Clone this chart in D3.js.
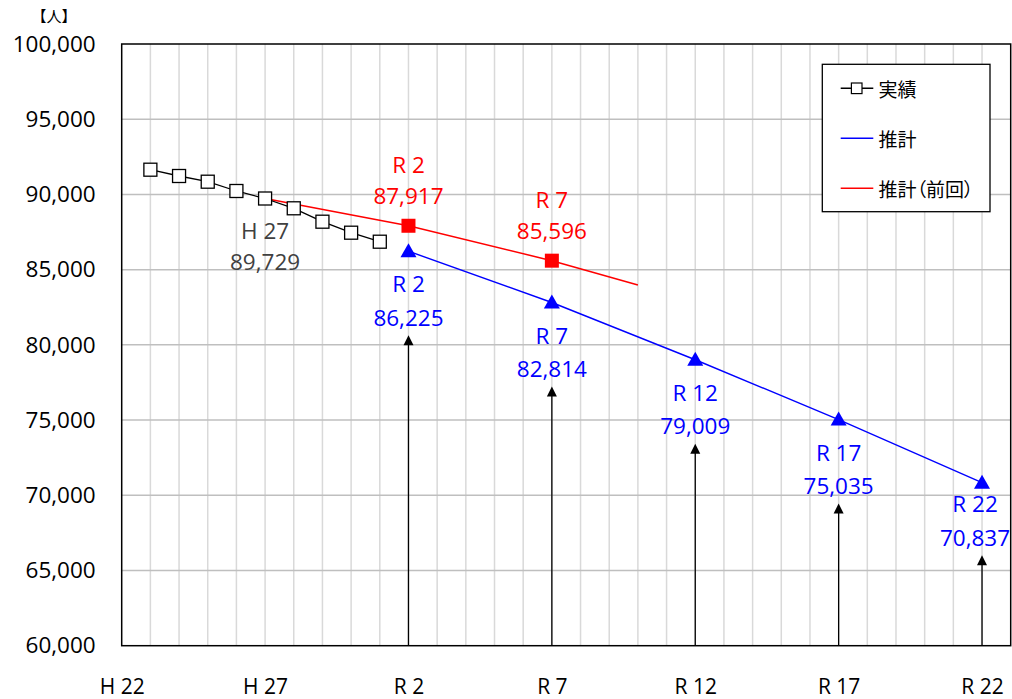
<!DOCTYPE html>
<html>
<head>
<meta charset="utf-8">
<script src="https://cdn.jsdelivr.net/npm/d3@7"></script>
<style>
  html, body { margin: 0; padding: 0; background: #fff; }
  svg { display: block; }
</style>
</head>
<body>
<svg id="chart" width="1012" height="699"></svg>
<script>
// ---- data ----
const actualYears = [2011, 2012, 2013, 2014, 2015, 2016, 2017, 2018, 2019];
const actualValues = [91644, 91225, 90846, 90228, 89729, 89078, 88187, 87456, 86857];

const estYears = [2020, 2025, 2030, 2035, 2040];
const estValues = [86225, 82814, 79009, 75035, 70837];
const estLabels = ["R 2", "R 7", "R 12", "R 17", "R 22"];

const prevYears = [2015, 2020, 2025, 2028];
const prevValues = [89729, 87917, 85596, 83980];
const prevMarkerYears = [2020, 2025];
const prevLabels = ["R 2", "R 7"];

const xTickYears = [2010, 2015, 2020, 2025, 2030, 2035, 2040];
const xTickLabels = ["H 22", "H 27", "R 2", "R 7", "R 12", "R 17", "R 22"];
const yTicks = [60000, 65000, 70000, 75000, 80000, 85000, 90000, 95000, 100000];

const unitLabel = "【人】";
const legendNames = ["実績", "推計", "推計（前回）"];
const highlightYear = 2015, highlightLabel = "H 27";

// ---- layout ----
const svg = d3.select("#chart");
const L = 121.7, R = 1010.7, T = 44, B = 645.7;
const x = d3.scaleLinear().domain([2010, 2041]).range([L, R]);
const y = d3.scaleLinear().domain([60000, 100000]).range([B, T]);
const fmt = d3.format(",");
const numFont = "'Open Sans', 'Liberation Sans', sans-serif";
const cjkFont = "'Noto Sans CJK JP', sans-serif";

// vertical gridlines (every year)
svg.append("g").selectAll("line")
  .data(d3.range(2011, 2041))
  .join("line")
  .attr("x1", d => x(d)).attr("x2", d => x(d))
  .attr("y1", T).attr("y2", B)
  .attr("stroke", "#d9d9d9").attr("stroke-width", 1.5);

// horizontal gridlines
svg.append("g").selectAll("line")
  .data(yTicks.slice(1, -1))
  .join("line")
  .attr("x1", L).attr("x2", R)
  .attr("y1", d => y(d)).attr("y2", d => y(d))
  .attr("stroke", "#bfbfbf").attr("stroke-width", 1.5);

// plot border
svg.append("rect")
  .attr("x", L).attr("y", T).attr("width", R - L).attr("height", B - T)
  .attr("fill", "none").attr("stroke", "#000").attr("stroke-width", 1.5);

// y axis
const yAxis = svg.append("g")
  .attr("transform", `translate(${L},0)`)
  .call(d3.axisLeft(y).tickValues(yTicks).tickFormat(fmt).tickSize(0).tickPadding(26));
yAxis.select(".domain").remove();
yAxis.selectAll("text").attr("font-family", numFont).attr("font-size", 22.5).attr("fill", "#000");

// x axis
const xAxis = svg.append("g")
  .attr("transform", `translate(0,${B})`)
  .call(d3.axisBottom(x).tickValues(xTickYears).tickFormat((d, i) => xTickLabels[i]).tickSize(0).tickPadding(0));
xAxis.select(".domain").remove();
xAxis.selectAll("text").attr("font-family", numFont).attr("font-size", 21).attr("fill", "#000")
  .attr("dy", null).attr("y", 40).attr("dominant-baseline", "central");

// unit label
svg.append("text").attr("x", 54).attr("y", 15).attr("text-anchor", "middle")
  .attr("dominant-baseline", "central")
  .attr("font-family", cjkFont).attr("font-size", 15).attr("fill", "#000").text(unitLabel);

// label offsets (below the point) for estimate labels
const estOff1 = (i) => i === estYears.length - 1 ? 21 : 32.5;
const estOff2 = (i) => i === estYears.length - 1 ? 54.5 : 66;

// arrows
const arrowData = estYears.map((yr, i) => ({ yr, v: estValues[i], off: estOff2(i) + 18 }));
svg.append("g").selectAll("line")
  .data(arrowData)
  .join("line")
  .attr("x1", d => x(d.yr)).attr("x2", d => x(d.yr))
  .attr("y1", B).attr("y2", d => y(d.v) + d.off + 8)
  .attr("stroke", "#000").attr("stroke-width", 1.3);
svg.append("g").selectAll("path")
  .data(arrowData)
  .join("path")
  .attr("transform", d => `translate(${x(d.yr)},${y(d.v) + d.off})`)
  .attr("d", "M0,0 L5,10 L-5,10 Z").attr("fill", "#000");

// lines
const line = d3.line().x(d => x(d[0])).y(d => y(d[1]));
svg.append("path").datum(prevYears.map((yr, i) => [yr, prevValues[i]]))
  .attr("d", line).attr("fill", "none").attr("stroke", "#ff0000").attr("stroke-width", 1.5);
svg.append("path").datum(estYears.map((yr, i) => [yr, estValues[i]]))
  .attr("d", line).attr("fill", "none").attr("stroke", "#0000ff").attr("stroke-width", 1.4);
svg.append("path").datum(actualYears.map((yr, i) => [yr, actualValues[i]]))
  .attr("d", line).attr("fill", "none").attr("stroke", "#000").attr("stroke-width", 1.3);

// actual markers
svg.append("g").selectAll("rect")
  .data(actualYears.map((yr, i) => [yr, actualValues[i]]))
  .join("rect")
  .attr("x", d => x(d[0]) - 6.5).attr("y", d => y(d[1]) - 6.5)
  .attr("width", 13).attr("height", 13)
  .attr("fill", "#fff").attr("stroke", "#000").attr("stroke-width", 1.3);

// previous-estimate markers
const prevPts = prevMarkerYears.map(yr => [yr, prevValues[prevYears.indexOf(yr)]]);
svg.append("g").selectAll("rect")
  .data(prevPts)
  .join("rect")
  .attr("x", d => x(d[0]) - 7).attr("y", d => y(d[1]) - 7)
  .attr("width", 14).attr("height", 14).attr("fill", "#ff0000");

// estimate markers (triangles)
svg.append("g").selectAll("path")
  .data(estYears.map((yr, i) => [yr, estValues[i]]))
  .join("path")
  .attr("transform", d => `translate(${x(d[0])},${y(d[1])})`)
  .attr("d", "M0,-8 L8,6 L-8,6 Z").attr("fill", "#0000ff");

// labels
function twoLine(g, cx, cy1, cy2, t1, t2, color) {
  g.append("text").attr("x", cx).attr("y", cy1).attr("text-anchor", "middle")
    .attr("dominant-baseline", "central").attr("font-family", numFont).attr("font-size", 22.5)
    .attr("fill", color).text(t1);
  g.append("text").attr("x", cx).attr("y", cy2).attr("text-anchor", "middle")
    .attr("dominant-baseline", "central").attr("font-family", numFont).attr("font-size", 22.5)
    .attr("fill", color).text(t2);
}
const lab = svg.append("g");
// H27 actual
const hv = actualValues[actualYears.indexOf(highlightYear)];
twoLine(lab, x(highlightYear), y(hv) + 32, y(hv) + 63, highlightLabel, fmt(hv), "#404040");
// previous estimate labels
prevMarkerYears.forEach((yr, i) => {
  const v = prevValues[prevYears.indexOf(yr)];
  twoLine(lab, x(yr), y(v) - 61, y(v) - 30, prevLabels[i], fmt(v), "#ff0000");
});
// estimate labels
estYears.forEach((yr, i) => {
  const v = estValues[i];
  const last = i === estYears.length - 1;
  const cx = last ? x(yr) - 7 : x(yr);
  twoLine(lab, cx, y(v) + estOff1(i), y(v) + estOff2(i), estLabels[i], fmt(v), "#0000ff");
});

// legend
const lg = svg.append("g");
lg.append("rect").attr("x", 822.3).attr("y", 64.3).attr("width", 167.7).attr("height", 147.4)
  .attr("fill", "#fff").attr("stroke", "#000").attr("stroke-width", 1.3);
const legColors = ["#000", "#0000ff", "#ff0000"];
const legY = [88.3, 138.3, 188.3];
legendNames.forEach((n, i) => {
  lg.append("line").attr("x1", 840.7).attr("x2", 873.3).attr("y1", legY[i]).attr("y2", legY[i])
    .attr("stroke", legColors[i]).attr("stroke-width", 1.4);
  if (i === 0) {
    lg.append("rect").attr("x", 856.7 - 5.3).attr("y", legY[i] - 5.3).attr("width", 10.6).attr("height", 10.6)
      .attr("fill", "#fff").attr("stroke", "#000").attr("stroke-width", 1.2);
  }
  lg.append("text").attr("x", 878.5).attr("y", legY[i]).attr("dominant-baseline", "central")
    .attr("font-family", cjkFont).attr("font-size", 19).attr("fill", "#000")
    .style("font-feature-settings", "'palt'").text(n);
});
</script>
</body>
</html>
